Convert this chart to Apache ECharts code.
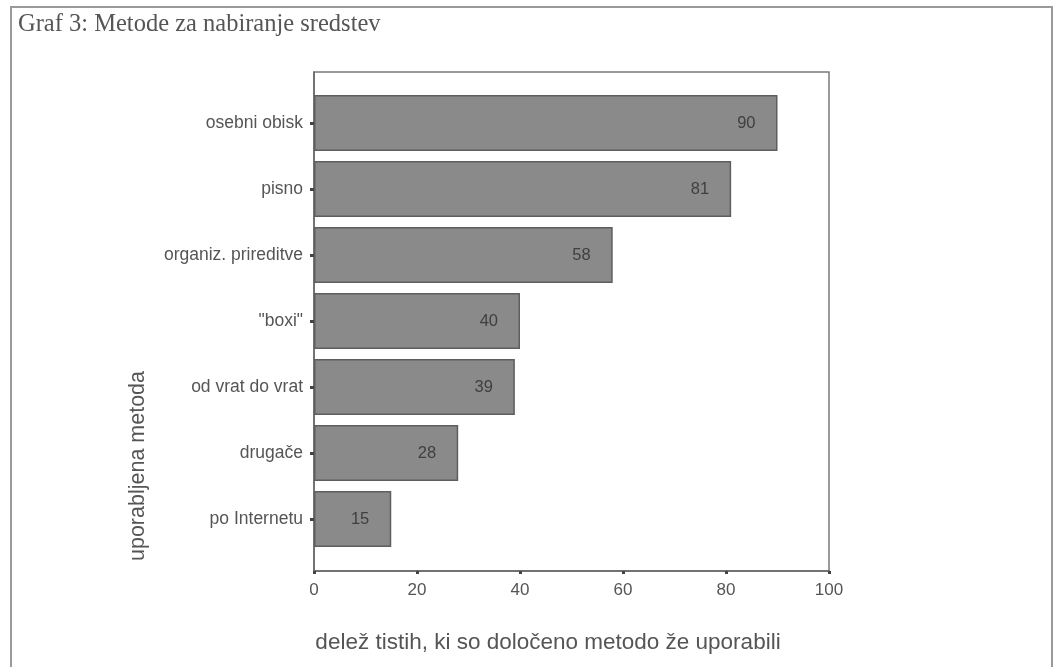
<!DOCTYPE html>
<html>
<head>
<meta charset="utf-8">
<script src="https://cdn.jsdelivr.net/npm/echarts@6/dist/echarts.min.js"></script>
<style>
  html, body { margin: 0; padding: 0; background: #ffffff; }
  #chart { width: 1055px; height: 667px; }
</style>
</head>
<body>
<div id="chart"></div>
<script>
// Fundraising methods and the share of organisations that have used each one
const methods = ['osebni obisk', 'pisno', 'organiz. prireditve', '"boxi"', 'od vrat do vrat', 'drugače', 'po Internetu'];
const shares = [90, 81, 58, 40, 39, 28, 15];
const xTicks = [0, 20, 40, 60, 80, 100];

const titleText = 'Graf 3: Metode za nabiranje sredstev';
const xName = 'delež tistih, ki so določeno metodo že uporabili';
const yName = 'uporabljena metoda';

const ink = '#555555';
const sans = 'Liberation Sans, Arial, sans-serif';

const chart = echarts.init(document.getElementById('chart'));

chart.setOption({
  backgroundColor: '#ffffff',
  animation: false,
  grid: [
    // outer plotting frame with the value scale
    { left: 314, top: 72, width: 515, height: 499, show: true, borderColor: '#7a7a7a', borderWidth: 1.5, backgroundColor: 'transparent' },
    // inner band holding the categories and bars
    { left: 314, top: 90, width: 515, height: 462 }
  ],
  xAxis: [
    {
      gridIndex: 0, type: 'value', min: xTicks[0], max: xTicks[xTicks.length - 1], interval: 20,
      axisLine: { show: true, lineStyle: { color: '#666', width: 1.5 } },
      axisTick: { show: true, length: 3, lineStyle: { color: '#444', width: 3 } },
      axisLabel: { color: ink, fontFamily: sans, fontSize: 17, margin: 11 },
      splitLine: { show: false }
    },
    { gridIndex: 1, type: 'value', min: 0, max: 100, show: false }
  ],
  yAxis: [
    {
      gridIndex: 0, type: 'value', min: 0, max: 1,
      axisLine: { show: true, lineStyle: { color: '#666', width: 1.5 } },
      axisTick: { show: false }, axisLabel: { show: false }, splitLine: { show: false }
    },
    {
      gridIndex: 1, type: 'category', data: methods, inverse: true,
      axisLine: { show: false },
      axisTick: { show: true, alignWithLabel: true, length: 4, lineStyle: { color: '#444', width: 3 } },
      axisLabel: { color: ink, fontFamily: sans, fontSize: 17.5, margin: 11 }
    }
  ],
  series: [
    {
      type: 'bar', xAxisIndex: 1, yAxisIndex: 1,
      data: shares,
      barCategoryGap: '15%',
      itemStyle: { color: '#8a8a8a', borderColor: '#5e5e5e', borderWidth: 1.5 },
      label: {
        show: true, position: 'insideRight', distance: 22,
        color: '#3f3f3f', fontFamily: sans, fontSize: 16.5
      }
    }
  ],
  graphic: [
    // page frame
    { type: 'rect', shape: { x: 11, y: 7, width: 1041, height: 700 }, style: { fill: 'none', stroke: '#9a9a9a', lineWidth: 2 }, silent: true },
    { type: 'text', left: 18, top: 12, style: { text: titleText, fill: '#555', font: '24.5px "Liberation Serif", "Times New Roman", serif' } },
    { type: 'text', x: 548, y: 643, style: { text: xName, fill: ink, font: '22.5px ' + sans, textAlign: 'center', textVerticalAlign: 'middle' } },
    { type: 'text', x: 138, y: 466, rotation: Math.PI / 2, style: { text: yName, fill: ink, font: '21.5px ' + sans, textAlign: 'center', textVerticalAlign: 'middle' } }
  ]
});
</script>
</body>
</html>
